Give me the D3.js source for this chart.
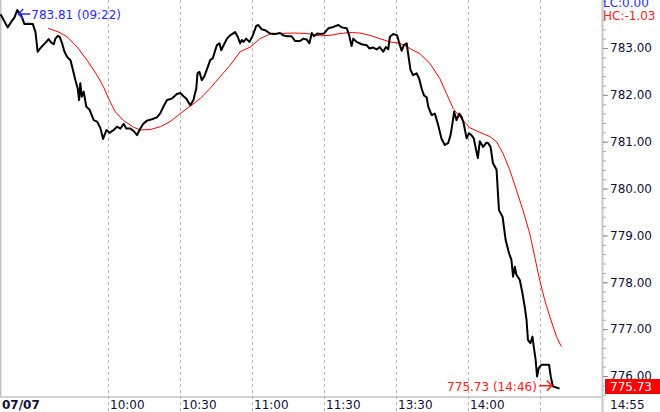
<!DOCTYPE html>
<html>
<head>
<meta charset="utf-8">
<script src="https://cdn.jsdelivr.net/npm/d3@7"></script>
<style>
  body { margin: 0; background: #fff; }
  svg { display: block; font-family: "DejaVu Sans", Verdana, sans-serif; }
</style>
</head>
<body>
<svg id="chart" width="660" height="412"></svg>
<script>
// session minutes counted from 09:15 (lunch break folded out)
const priceMin = [0, 3, 4.9, 5.8, 7, 8.6, 10, 11.8, 13.5, 14.6, 15.5, 16.7, 17.8, 18.75, 20.1, 21.1, 22.2, 22.9, 23.9, 24.7,
  25.7, 26.7, 27.8, 29.2, 29.9, 31.25, 32.2, 32.8, 33.3, 33.9, 34.7, 35.8, 37.2, 38.9, 40.3, 41.7, 42.8, 44.2, 45.5, 47.2,
  48.6, 50, 51.4, 52.5, 54.2, 55.5, 57, 58, 59.5, 61.1, 63.2, 65.3, 66.7, 68, 69.5, 71.5, 73.6, 75, 76.4, 77.5,
  79.2, 80.5, 81.7, 82.2, 83, 84, 85, 86.1, 87.5, 88.6, 89.6, 90.3, 91.4, 92.1, 93.3, 94.5, 95.8, 97.9, 99, 100,
  100.7, 101.4, 102.5, 103.9, 105.3, 106.7, 107.6, 109, 110.4, 112.5, 114.6, 116.7, 118, 119.5, 121.5, 122.9, 125, 126.4, 127.8, 128.9,
  129.9, 130.8, 132.2, 133.6, 135, 136.8, 138.9, 141, 142.4, 144.5, 145.5, 146.5, 147.2, 148.6, 150.7, 152.8, 153.9, 155.5, 157, 158.3,
  159.7, 160.8, 161.8, 162.5, 163.9, 165.5, 166.4, 167.4, 168.3, 169.5, 170.1, 171.1, 172.2, 173.6, 174.7, 175.7, 176.7, 177.8, 178.5, 179.9,
  181.25, 182.6, 184, 185.4, 186.8, 187.8, 188.6, 189.3, 190.3, 191.4, 192.4, 193.3, 194.5, 195.5, 196.5, 197.5, 198.6, 199.2, 200, 201.4,
  202.8, 203.5, 204.5, 205.5, 207, 208, 209.5, 210.8, 212.2, 213.2, 213.9, 214.6, 215.3, 216.7, 217.8, 218.75, 219.5, 220.1, 221.1, 222,
  222.5, 223.3, 223.9, 224.6, 225.7, 228.9, 229.6, 230.5, 233.3]
const priceVal = [783.72, 783.44, 783.59, 783.65, 783.81, 783.70, 783.51, 783.52, 783.51, 783.34, 782.92, 783.00, 783.06, 783.11, 783.19, 783.12, 783.08, 783.20, 783.26, 783.24,
  783.10, 782.92, 782.81, 782.74, 782.60, 782.31, 782.14, 781.89, 782.25, 781.96, 782.07, 781.75, 781.68, 781.46, 781.43, 781.29, 781.06, 781.25, 781.19, 781.25,
  781.32, 781.28, 781.38, 781.28, 781.28, 781.23, 781.14, 781.25, 781.38, 781.45, 781.48, 781.52, 781.61, 781.75, 781.89, 781.92, 782.02, 782.04, 781.97, 781.92,
  781.78, 781.89, 782.14, 782.46, 782.49, 782.31, 782.39, 782.54, 782.74, 782.78, 782.95, 783.06, 783.10, 782.95, 783.08, 783.20, 783.27, 783.34, 783.24, 783.10,
  783.17, 783.13, 783.20, 783.13, 783.27, 783.47, 783.49, 783.40, 783.38, 783.31, 783.30, 783.32, 783.27, 783.25, 783.25, 783.15, 783.15, 783.20, 783.18, 783.10,
  783.32, 783.25, 783.31, 783.30, 783.31, 783.42, 783.45, 783.49, 783.44, 783.42, 783.27, 783.04, 783.20, 783.13, 783.08, 783.06, 782.99, 783.01, 782.97, 783.02,
  782.92, 783.02, 782.97, 783.24, 783.30, 783.27, 783.10, 782.94, 783.06, 783.10, 782.88, 782.53, 782.42, 782.46, 782.35, 782.14, 781.99, 781.95, 781.75, 781.57,
  781.60, 781.36, 781.07, 780.93, 780.97, 781.14, 781.39, 781.64, 781.46, 781.60, 781.53, 781.39, 781.07, 781.18, 781.14, 781.07, 780.79, 780.65, 781.01, 780.89,
  780.98, 780.97, 780.89, 780.54, 780.40, 779.54, 779.40, 778.90, 778.62, 778.48, 778.12, 778.33, 778.16, 778.05, 777.77, 777.48, 777.20, 776.77, 776.70, 776.84,
  776.63, 776.35, 775.99, 776.17, 776.24, 776.24, 775.99, 775.78, 775.73]

const avgMin = [19.9, 24.3, 27.8, 32, 36.1, 40.3, 43, 45.1, 47.9, 51.4, 55.5, 58.3, 62.5, 66.7, 70.8, 75, 79.2, 83.3, 87.5, 91.7,
  95.8, 100, 104.2, 108.3, 112.5, 116.7, 122.2, 127.8, 133.3, 137.5, 141.7, 145.8, 150, 154.2, 158.3, 162.5, 166.7, 170.8, 175, 179.2,
  183.3, 186.1, 188.9, 191.7, 195.8, 200, 204.2, 207, 209.7, 212.5, 215.3, 218, 220.8, 222.9, 225, 227.1, 229.2, 232, 234]
const avgVal = [783.42, 783.34, 783.24, 783.02, 782.74, 782.42, 782.17, 781.92, 781.64, 781.45, 781.31, 781.25, 781.26, 781.32, 781.43, 781.60, 781.76, 781.92, 782.14, 782.39,
  782.63, 782.92, 783.02, 783.20, 783.30, 783.31, 783.32, 783.31, 783.26, 783.27, 783.31, 783.33, 783.32, 783.27, 783.20, 783.13, 783.10, 782.99, 782.88, 782.67,
  782.35, 782.03, 781.71, 781.53, 781.30, 781.20, 781.11, 781.00, 780.75, 780.40, 779.97, 779.54, 779.05, 778.55, 778.05, 777.62, 777.27, 776.84, 776.63]

const timeTicks = [45, 75, 105, 135, 165, 195, 225]
const timeLabels = ['10:00', '10:30', '11:00', '11:30', '13:30', '14:00', '']
const priceTicks = [776, 777, 778, 779, 780, 781, 782, 783]

const svg = d3.select('#chart')
const W = 660, H = 412
const plotRight = 602, axisY = 397

let x = d3.scaleLinear().domain([0, 251]).range([0.5, plotRight])
let y = d3.scaleLinear().domain([776, 783]).range([376, 48])

let ink = '#10103a'

// dashed time grid
svg.append('g')
  .selectAll('line')
  .data(timeTicks)
  .enter().append('line')
  .attr('x1', d => Math.round(x(d)) + 0.5)
  .attr('x2', d => Math.round(x(d)) + 0.5)
  .attr('y1', 0)
  .attr('y2', H)
  .attr('stroke', '#b4b4b4')
  .attr('stroke-dasharray', '3,3')

// frame
svg.append('line').attr('x1', 0.5).attr('x2', 0.5).attr('y1', 0).attr('y2', axisY)
  .attr('stroke', '#c4c4c4').attr('stroke-width', 2)
svg.append('line').attr('x1', 0).attr('x2', plotRight).attr('y1', axisY).attr('y2', axisY)
  .attr('stroke', '#c4c4c4').attr('stroke-width', 1.5)
svg.append('line').attr('x1', plotRight + 0.5).attr('x2', plotRight + 0.5).attr('y1', 0).attr('y2', H)
  .attr('stroke', '#c8c8c8').attr('stroke-width', 2)

// right price axis
let minorTicks = d3.range(775.6, 784.01, 0.2).map(v => +v.toFixed(1))
svg.append('g')
  .attr('transform', `translate(${plotRight + 1},0)`)
  .call(d3.axisRight(y).tickValues(minorTicks).tickSize(3).tickFormat(''))
  .call(g => g.select('.domain').remove())
  .call(g => g.selectAll('line').attr('stroke', '#a8a8a8'))

svg.append('g')
  .attr('transform', `translate(${plotRight + 1},0)`)
  .call(d3.axisRight(y).tickValues(priceTicks).tickSize(5).tickPadding(2).tickFormat(d3.format('.2f')))
  .call(g => g.select('.domain').remove())
  .call(g => g.selectAll('line').attr('stroke', '#909090'))
  .call(g => g.selectAll('text')
    .attr('font-family', '"DejaVu Sans", Verdana, sans-serif')
    .attr('font-size', 12)
    .attr('fill', ink))

// time labels
svg.append('g')
  .selectAll('text')
  .data(timeTicks)
  .enter().append('text')
  .attr('x', d => Math.round(x(d)) + 2)
  .attr('y', 409)
  .attr('font-size', 12)
  .attr('fill', ink)
  .text((d, i) => timeLabels[i])

svg.append('text').attr('x', 2).attr('y', 409)
  .attr('font-size', 12).attr('font-weight', 'bold').attr('fill', ink).text('07/07')
svg.append('text').attr('x', 610).attr('y', 409)
  .attr('font-size', 12).attr('fill', ink).text('14:55')

// lines
let avgLine = d3.line().x(d => x(d[0])).y(d => y(d[1]))
svg.append('path')
  .datum(d3.zip(avgMin, avgVal))
  .attr('d', avgLine)
  .attr('fill', 'none')
  .attr('stroke', '#ff0000')
  .attr('stroke-width', 1)

svg.append('path')
  .datum(d3.zip(priceMin, priceVal))
  .attr('d', avgLine)
  .attr('fill', 'none')
  .attr('stroke', '#000')
  .attr('stroke-width', 2)
  .attr('stroke-linejoin', 'round')

// high / last annotations
let hi = d3.greatestIndex(priceVal)
let hx = x(priceMin[hi]), hy = y(priceVal[hi]) + 4
svg.append('path')
  .attr('d', `M${hx + 13},${hy}H${hx + 1}M${hx + 6},${hy - 5}L${hx + 1},${hy}L${hx + 6},${hy + 5}`)
  .attr('fill', 'none').attr('stroke', '#2a2aff').attr('stroke-width', 1.5)
svg.append('text').attr('x', hx + 14).attr('y', hy + 5)
  .attr('font-size', 12).attr('fill', '#2a2aff')
  .text(priceVal[hi].toFixed(2) + ' (09:22)')

let last = priceVal.length - 1
let lx = x(priceMin[last - 1]) - 1, ly = y(priceVal[last]) - 3
svg.append('path')
  .attr('d', `M${lx - 13},${ly}H${lx}M${lx - 5},${ly - 5}L${lx},${ly}L${lx - 5},${ly + 5}`)
  .attr('fill', 'none').attr('stroke', '#ff2020').attr('stroke-width', 1.5)
svg.append('text').attr('x', lx - 15).attr('y', ly + 5)
  .attr('text-anchor', 'end')
  .attr('font-size', 12).attr('fill', '#ff2020')
  .text(priceVal[last].toFixed(2) + ' (14:46)')

// last price tag
svg.append('rect').attr('x', 605).attr('y', 379).attr('width', 55).attr('height', 15).attr('fill', '#ff0000')
svg.append('text').attr('x', 610).attr('y', 391)
  .attr('font-size', 12).attr('fill', '#fff').text(priceVal[last].toFixed(2))

// change readouts
svg.append('text').attr('x', 603).attr('y', 7).attr('font-size', 12).attr('fill', '#2a2aff').text('LC:0.00')
svg.append('text').attr('x', 603).attr('y', 20).attr('font-size', 12).attr('fill', '#ff2020').text('HC:-1.03')
</script>
</body>
</html>
